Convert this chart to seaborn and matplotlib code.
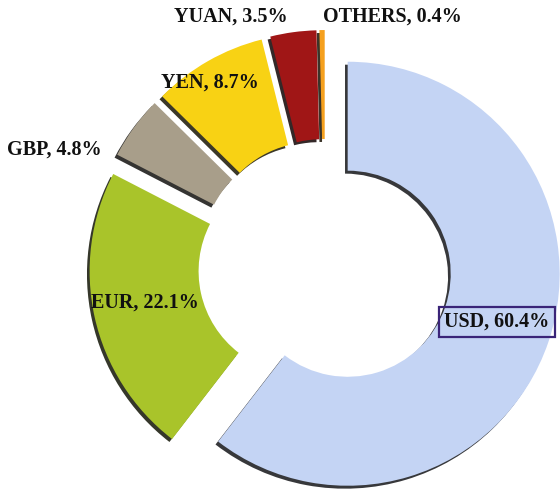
import numpy as np
import pandas as pd
import seaborn as sns
import matplotlib
matplotlib.use("Agg")
import matplotlib.pyplot as plt

# currency shares (%)
currencies = ["USD", "EUR", "GBP", "YEN", "YUAN", "OTHERS"]
shares = [60.4, 22.1, 4.8, 8.7, 3.5, 0.4]
colours = ["#C4D4F4", "#A9C42A", "#A89E8A", "#F8D214", "#A01616", "#F5A01E"]

sns.set_theme(style="white")
plt.rcParams['font.family'] = ['Liberation Serif', 'DejaVu Serif']

palette = sns.color_palette(colours)

fig = plt.figure(figsize=(5.6, 4.9), dpi=100)
ax = fig.add_axes([0, 0, 1, 1])

# shadow offset is in data units * dpi/72
wedges, _ = ax.pie(shares, colors=palette, startangle=90, counterclock=False,
                   explode=[0.113] * len(shares), radius=1,
                   wedgeprops=dict(width=0.514, linewidth=0),
                   shadow=dict(ox=-0.009, oy=-0.010, shade=0.9, alpha=0.85))
ax.set_xlim(-325 / 212, 235 / 212)
ax.set_ylim(-224 / 212, 266 / 212)
ax.axis("off")

# label spots (pixel centres in the 560x490 picture)
spots = [(497, 322), (145, 303), (54, 150), (210, 83), (231, 17), (392, 17)]
for name, val, (px, py) in zip(currencies, shares, spots):
    box = None
    if name == "USD":
        box = dict(boxstyle="square,pad=0.25", fc="none", ec="#3A2478", lw=1.6)
    fig.text(px / 560, 1 - py / 490, f"{name}, {val}%", ha="center", va="center",
             fontsize=14.5, fontweight="bold", color="#111111", bbox=box)

fig.savefig("out.png", dpi=100)
